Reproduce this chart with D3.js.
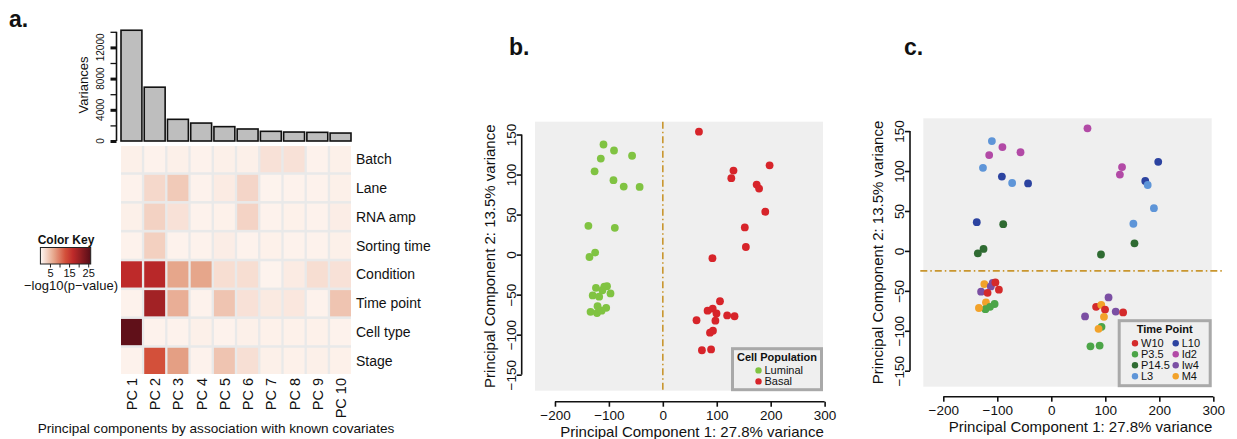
<!DOCTYPE html>
<html>
<head>
<meta charset="utf-8">
<script src="https://cdn.jsdelivr.net/npm/d3@7"></script>
<style>
  body { margin: 0; background: #fff; }
  text { font-family: "Liberation Sans", Arial, sans-serif; fill: #111; }
</style>
</head>
<body>
<svg id="fig" width="1237" height="439"></svg>
<script>
// ---- data ----
var pcLabels = ["PC 1", "PC 2", "PC 3", "PC 4", "PC 5", "PC 6", "PC 7", "PC 8", "PC 9", "PC 10"];
var variances = [14200, 6900, 2780, 2300, 1840, 1540, 1240, 1150, 1110, 1020];
var varTicks = [0, 2000, 4000, 6000, 8000, 10000, 12000, 14000];
var varTickLabels = [0, 4000, 8000, 12000];

var covariates = ["Batch", "Lane", "RNA amp", "Sorting time", "Condition", "Time point", "Cell type", "Stage"];
// -log10(p-value), one row per covariate, one column per PC
var assocScores = [
  [0.8, 0.6, 0.8, 0.6, 0.8, 0.8, 2.0, 2.0, 0.6, 0.8],
  [0.6, 2.8, 4.0, 0.6, 1.2, 3.0, 0.5, 0.6, 0.6, 0.8],
  [0.8, 3.3, 2.0, 0.6, 0.7, 3.2, 0.6, 0.7, 0.6, 1.0],
  [0.6, 3.5, 0.6, 0.6, 1.0, 0.6, 0.7, 0.6, 0.6, 0.8],
  [17.0, 17.5, 7.0, 7.0, 2.3, 2.3, 0.5, 1.2, 2.3, 2.0],
  [0.6, 19.5, 6.3, 0.6, 4.5, 2.0, 1.3, 1.5, 0.6, 4.5],
  [25.5, 0.6, 0.6, 0.8, 0.6, 0.8, 0.7, 0.7, 0.7, 0.6],
  [0.6, 13.0, 7.5, 0.6, 4.5, 2.2, 0.8, 0.7, 0.8, 0.7]
];
var keyTicks = [0, 5, 10, 15, 20, 25];
var keyTickLabels = [5, 15, 25];

// PCA sample coordinates (same samples in panels b and c)
var pc1 = [-110, -90.5, -57, -115, -126.5, -91.5, -72.5, -43, -138, -89, -125.5, -136,
           -124, -112, -108.5, -103.5, -130, -118, -97, -121, -105, -122, -134, -113.5,
           67, 198, 131, 127, 174, 178.5, 190, 152, 154, 92,
           106, 83, 92.5, 99.5, 97.5, 62.5, 119.3, 133, 93, 87.5, 72.5, 89.5];
var pc2 = [137.5, 130, 123.5, 120, 104, 93, 85, 84.5, 36, 33.5, 2.5, -3,
           -41.5, -44.5, -40, -39.5, -51, -52.5, -48.5, -64.5, -66.5, -73, -71.5, -70,
           153.5, 111.5, 105, 95.5, 87.5, 82.5, 53.5, 34, 9.5, -4.5,
           -58.3, -70, -67.5, -73.5, -82.5, -82, -76, -77, -95, -97.5, -119.5, -118.5];
var population = ["Luminal", "Luminal", "Luminal", "Luminal", "Luminal", "Luminal", "Luminal", "Luminal", "Luminal", "Luminal", "Luminal", "Luminal",
                  "Luminal", "Luminal", "Luminal", "Luminal", "Luminal", "Luminal", "Luminal", "Luminal", "Luminal", "Luminal", "Luminal", "Luminal",
                  "Basal", "Basal", "Basal", "Basal", "Basal", "Basal", "Basal", "Basal", "Basal", "Basal",
                  "Basal", "Basal", "Basal", "Basal", "Basal", "Basal", "Basal", "Basal", "Basal", "Basal", "Basal", "Basal"];
var timePoint = ["L3", "Id2", "Id2", "Id2", "L3", "L10", "L3", "L10", "L10", "P14.5", "P14.5", "P14.5",
                 "M4", "Iw4", "Iw4", "W10", "Iw4", "W10", "W10", "M4", "P3.5", "P3.5", "M4", "P3.5",
                 "Id2", "L10", "Id2", "Id2", "L10", "L3", "L3", "L3", "P14.5", "P14.5",
                 "Iw4", "W10", "M4", "W10", "M4", "Iw4", "Iw4", "W10", "P3.5", "M4", "P3.5", "P3.5"];

var popNames = ["Luminal", "Basal"];
var popColors = ["#80c342", "#d7242a"];
var tpNames = ["W10", "P3.5", "P14.5", "L3", "L10", "Id2", "Iw4", "M4"];
var tpColors = ["#d42a2b", "#4ca548", "#2f6b32", "#5e95d8", "#2c43a0", "#b24aa6", "#7b4fa3", "#f2a22a"];

var pcaXTicks = [-200, -100, 0, 100, 200, 300];
var pcaYTicks = [-150, -100, -50, 0, 50, 100, 150];

// ---- setup ----
var svg = d3.select("#fig");
var font = "'Liberation Sans', Arial, sans-serif";

function panelLabel(txt, x, y) {
  svg.append("text").attr("x", x).attr("y", y)
    .style("font-size", "23px").style("font-weight", "bold").text(txt);
}

// ================= panel a =================
panelLabel("a.", 9, 27);

var xBand = d3.scaleBand().domain(pcLabels).range([121, 351]).paddingInner(0.1);
var yVar = d3.scaleLinear().domain([0, 14000]).range([141, 31.8]);

var barG = svg.append("g");
barG.selectAll("rect.bar")
  .data(variances)
  .join("rect")
  .attr("class", "bar")
  .attr("x", (d, i) => xBand(pcLabels[i]))
  .attr("width", xBand.bandwidth())
  .attr("y", d => yVar(d))
  .attr("height", d => yVar(0) - yVar(d))
  .attr("fill", "#bebebe")
  .attr("stroke", "#111")
  .attr("stroke-width", 1.6);

var varAxis = d3.axisLeft(yVar).tickValues(varTicks).tickSize(6).tickFormat("");
var varAxisG = barG.append("g").attr("transform", "translate(116.5,0)").call(varAxis);
varAxisG.select(".domain").remove();
varAxisG.selectAll(".tick line")
  .attr("stroke", "#111")
  .attr("stroke-width", d => varTickLabels.indexOf(d) >= 0 ? 3 : 1.3);
barG.append("line")
  .attr("x1", 116.5).attr("x2", 116.5)
  .attr("y1", yVar(0)).attr("y2", yVar(14000))
  .attr("stroke", "#111").attr("stroke-width", 1.6);
barG.selectAll("text.vtick")
  .data(varTickLabels)
  .join("text")
  .attr("class", "vtick")
  .attr("transform", d => `translate(104,${yVar(d)}) rotate(-90)`)
  .attr("text-anchor", "middle")
  .style("font-size", "10px")
  .text(d => d);
barG.append("text")
  .attr("transform", "translate(88,85) rotate(-90)")
  .attr("text-anchor", "middle")
  .style("font-size", "13px")
  .text("Variances");

// heatmap
var yRow = d3.scaleBand().domain(covariates).range([146, 374]).paddingInner(0.09);
var heatColor = d3.scaleLinear()
  .domain([0, 7, 13, 17, 26])
  .range(["#fff9f5", "#e6a68b", "#d3503a", "#be2a2a", "#5a0e18"]);

var heatG = svg.append("g");
heatG.append("rect")
  .attr("x", xBand(pcLabels[0])).attr("y", 146)
  .attr("width", xBand(pcLabels[9]) + xBand.bandwidth() - xBand(pcLabels[0]))
  .attr("height", 228)
  .attr("fill", "#e9e9e9");

assocScores.forEach(function (row, r) {
  heatG.selectAll("rect.r" + r)
    .data(row)
    .join("rect")
    .attr("class", "r" + r)
    .attr("x", (d, i) => xBand(pcLabels[i]))
    .attr("y", yRow(covariates[r]))
    .attr("width", xBand.bandwidth())
    .attr("height", yRow.bandwidth())
    .attr("fill", d => heatColor(d));
});

heatG.selectAll("text.cov")
  .data(covariates)
  .join("text")
  .attr("class", "cov")
  .attr("x", 356)
  .attr("y", d => yRow(d) + yRow.bandwidth() / 2 + 5)
  .style("font-size", "14px")
  .text(d => d);

heatG.selectAll("text.pc")
  .data(pcLabels)
  .join("text")
  .attr("class", "pc")
  .attr("transform", d => `translate(${xBand(d) + xBand.bandwidth() / 2 + 5.5},378) rotate(-90)`)
  .attr("text-anchor", "end")
  .style("font-size", "14.5px")
  .text(d => d);

heatG.append("text")
  .attr("x", 216).attr("y", 433)
  .attr("text-anchor", "middle")
  .style("font-size", "13.6px")
  .text("Principal components by association with known covariates");

// colour key
var keyX = d3.scaleLinear().domain([0, 26.3]).range([40.4, 90.7]);
var defs = svg.append("defs");
var grad = defs.append("linearGradient").attr("id", "keygrad");
d3.range(0, 26.31, 1).forEach(function (v) {
  grad.append("stop")
    .attr("offset", (v / 26.3 * 100) + "%")
    .attr("stop-color", heatColor(v));
});
var keyG = svg.append("g");
keyG.append("text")
  .attr("x", 66).attr("y", 244)
  .attr("text-anchor", "middle")
  .style("font-size", "12px").style("font-weight", "bold")
  .text("Color Key");
keyG.append("rect")
  .attr("x", keyX(0)).attr("y", 247.5)
  .attr("width", keyX(26.3) - keyX(0)).attr("height", 16.5)
  .attr("fill", "url(#keygrad)")
  .attr("stroke", "#222").attr("stroke-width", 1);
var keyAxis = d3.axisBottom(keyX).tickValues(keyTicks).tickSize(3.5)
  .tickFormat(d => keyTickLabels.indexOf(d) >= 0 ? d : "");
var keyAxisG = keyG.append("g").attr("transform", "translate(0,264)").call(keyAxis);
keyAxisG.select(".domain").remove();
keyAxisG.selectAll(".tick line").attr("stroke", "#222");
keyAxisG.selectAll(".tick text").style("font-size", "11px").style("font-family", font)
  .attr("y", 5).attr("fill", "#111");
keyAxisG.selectAll(".tick").filter(d => d === 0).remove();
keyG.append("text")
  .attr("x", 71).attr("y", 289.5)
  .attr("text-anchor", "middle")
  .style("font-size", "13px")
  .text("\u2212log10(p\u2212value)");

// ================= panels b & c =================
function pcaPanel(box, colorOf, legend) {
  var x = d3.scaleLinear().domain([-237, 297]).range([box.x0, box.x1]);
  var y = d3.scaleLinear().domain([-170, 166]).range([box.y1, box.y0]);
  var g = svg.append("g");

  g.append("rect")
    .attr("x", box.x0).attr("y", box.y0)
    .attr("width", box.x1 - box.x0).attr("height", box.y1 - box.y0)
    .attr("fill", "#efefef");

  // reference line
  var dash = "7,3,1.5,3";
  if (box.vline) {
    g.append("line")
      .attr("x1", x(0)).attr("x2", x(0))
      .attr("y1", box.y0).attr("y2", box.y1)
      .attr("stroke", "#c9962f").attr("stroke-width", 1.6)
      .attr("stroke-dasharray", dash);
  } else {
    g.append("line")
      .attr("x1", box.x0 - 3).attr("x2", box.x1 + 12)
      .attr("y1", y(-25)).attr("y2", y(-25))
      .attr("stroke", "#c9962f").attr("stroke-width", 1.6)
      .attr("stroke-dasharray", dash);
  }

  g.selectAll("circle.pt")
    .data(pc1)
    .join("circle")
    .attr("class", "pt")
    .attr("cx", d => x(d))
    .attr("cy", (d, i) => y(pc2[i]))
    .attr("r", 3.9)
    .attr("fill", (d, i) => colorOf(i));

  // axes
  var ax = box.y1 + box.axisGap;
  var xAxis = d3.axisBottom(x).tickValues(pcaXTicks).tickSize(5).tickPadding(4);
  var xg = g.append("g").attr("transform", `translate(0,${ax})`).call(xAxis);
  xg.select(".domain").remove();
  xg.append("line").attr("x1", x(-200)).attr("x2", x(300))
    .attr("stroke", "#111").attr("stroke-width", 1.6);
  xg.selectAll(".tick line").attr("stroke", "#111").attr("stroke-width", 1.6);
  xg.selectAll(".tick text").style("font-size", "13.5px").style("font-family", font).attr("fill", "#111");

  var ay = box.x0 - 13.3;
  var yAxis = d3.axisLeft(y).tickValues(pcaYTicks).tickSize(5);
  var yg = g.append("g").attr("transform", `translate(${ay},0)`).call(yAxis);
  yg.select(".domain").remove();
  yg.append("line").attr("y1", y(-150)).attr("y2", y(150))
    .attr("stroke", "#111").attr("stroke-width", 1.6);
  yg.selectAll(".tick line").attr("stroke", "#111").attr("stroke-width", 1.6);
  yg.selectAll(".tick text")
    .attr("transform", "rotate(-90)")
    .attr("x", 0).attr("y", -6).attr("dy", 0)
    .attr("text-anchor", "middle")
    .style("font-size", "13.5px").style("font-family", font).attr("fill", "#111");

  g.append("text")
    .attr("x", (box.x0 + box.x1) / 2 + 13).attr("y", ax + 35)
    .attr("text-anchor", "middle")
    .style("font-size", "15px")
    .text("Principal Component 1: 27.8% variance");
  g.append("text")
    .attr("transform", `translate(${ay - 27},${(box.y0 + box.y1) / 2}) rotate(-90)`)
    .attr("text-anchor", "middle")
    .style("font-size", "15px")
    .text("Principal Component 2: 13.5% variance");

  // legend, bottom-right corner
  var lg = g.append("g")
    .attr("transform", `translate(${box.x1 - 1.5 - legend.w},${box.y1 - 1 - legend.h})`);
  lg.append("rect")
    .attr("width", legend.w).attr("height", legend.h)
    .attr("fill", "none").attr("stroke", "#a9a9a9").attr("stroke-width", 3);
  lg.append("text")
    .attr("x", legend.w / 2).attr("y", 12)
    .attr("text-anchor", "middle")
    .style("font-size", "11px").style("font-weight", "bold")
    .text(legend.title);
  var items = lg.selectAll("g.item")
    .data(legend.names)
    .join("g")
    .attr("class", "item")
    .attr("transform", (d, i) => {
      var col = Math.floor(i / legend.perCol), row = i % legend.perCol;
      return `translate(${legend.dx + col * legend.colW},${legend.dy + row * 11})`;
    });
  items.append("circle").attr("r", 3.2).attr("fill", (d, i) => legend.colors[i]);
  items.append("text").attr("x", 6).attr("y", 4)
    .style("font-size", "11px")
    .text(d => d);
}

panelLabel("b.", 509, 55);
pcaPanel({ x0: 535, x1: 823, y0: 121.7, y1: 390.7, axisGap: 11, vline: true },
  i => popColors[popNames.indexOf(population[i])],
  { w: 89, h: 41, title: "Cell Population", names: popNames, colors: popColors,
    perCol: 2, dx: 26, dy: 21.7, colW: 0 });

panelLabel("c.", 904, 55);
pcaPanel({ x0: 923.3, x1: 1211.7, y0: 118.3, y1: 386.7, axisGap: 10, vline: false },
  i => tpColors[tpNames.indexOf(timePoint[i])],
  { w: 91, h: 65, title: "Time Point", names: tpNames, colors: tpColors,
    perCol: 4, dx: 15.8, dy: 22.5, colW: 40.7 });
</script>
</body>
</html>
